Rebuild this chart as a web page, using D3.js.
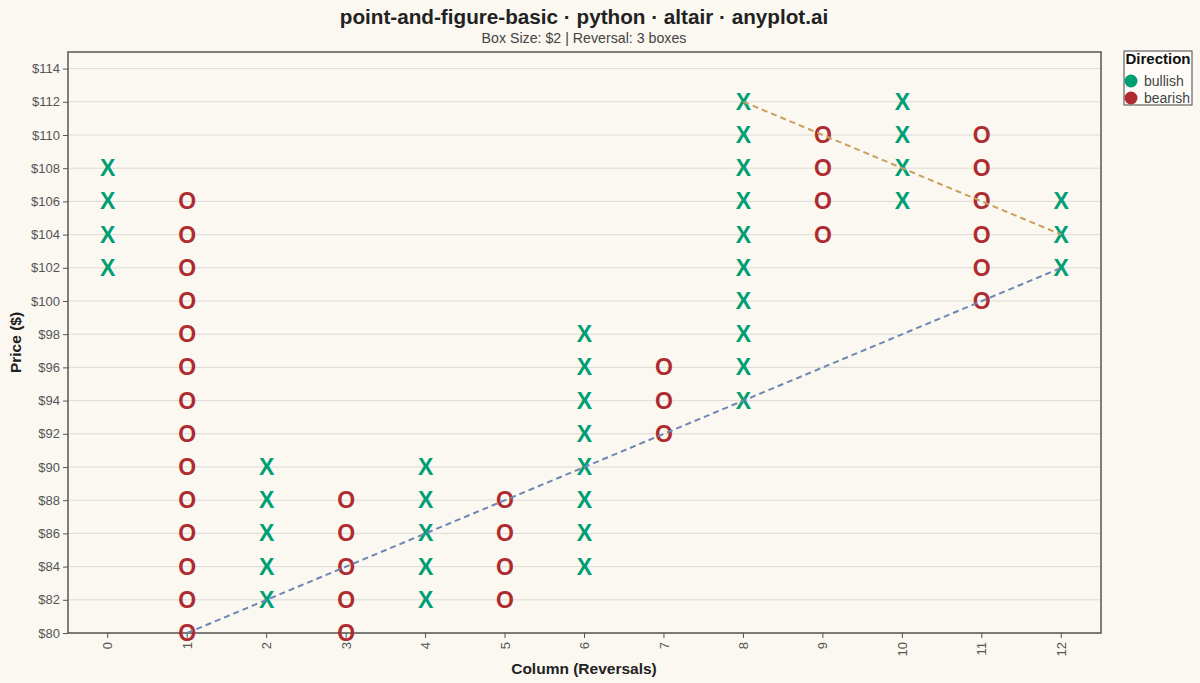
<!DOCTYPE html>
<html>
<head>
<meta charset="utf-8">
<script src="https://cdn.jsdelivr.net/npm/d3@7"></script>
<style>
  body { margin: 0; background: #FAF8F1; }
  svg { display: block; font-family: "Liberation Sans", Arial, sans-serif; }
</style>
</head>
<body>
<div id="chart"></div>
<script>
// columns of the point-and-figure chart: direction, first box, last box
const columns = [0, 1, 2, 3, 4, 5, 6, 7, 8, 9, 10, 11, 12];
const directions = ["bullish", "bearish", "bullish", "bearish", "bullish", "bearish", "bullish",
                    "bearish", "bullish", "bearish", "bullish", "bearish", "bullish"];
const lowBoxes  = [102, 80, 82, 80, 82, 82, 84, 92, 94, 104, 106, 100, 102];
const highBoxes = [108, 106, 90, 88, 90, 88, 98, 96, 112, 110, 112, 110, 106];
const boxSize = 2;

const priceTicks = [80, 82, 84, 86, 88, 90, 92, 94, 96, 98, 100, 102, 104, 106, 108, 110, 112, 114];

// trend lines: [column, price]
const supportLine = [[1, 80], [12, 102]];
const resistanceLine = [[8, 112], [12, 104]];

const width = 1200, height = 683;
const margin = { top: 52, right: 99, bottom: 50, left: 68 };

const colors = { bullish: "#009E73", bearish: "#AE2B2F" };

// expand columns into boxes
const boxes = [];
columns.forEach((c, i) => {
    for (let p = lowBoxes[i]; p <= highBoxes[i]; p += boxSize) {
        boxes.push({ column: c, price: p, direction: directions[i] });
    }
});

const svg = d3.select("#chart").append("svg")
    .attr("width", width)
    .attr("height", height);

svg.append("rect").attr("width", width).attr("height", height).attr("fill", "#FAF8F1");

const x = d3.scaleBand()
    .domain(columns)
    .range([margin.left, width - margin.right]);

const y = d3.scaleLinear()
    .domain([80, 115])
    .range([height - margin.bottom, margin.top]);

const cx = c => x(c) + x.bandwidth() / 2;

// gridlines
svg.append("g")
    .selectAll("line")
    .data(priceTicks)
    .join("line")
    .attr("x1", margin.left)
    .attr("x2", width - margin.right)
    .attr("y1", d => y(d))
    .attr("y2", d => y(d))
    .attr("stroke", "#DDDBD5")
    .attr("stroke-width", 1);

// y axis
const yAxis = svg.append("g")
    .attr("transform", `translate(${margin.left},0)`)
    .call(d3.axisLeft(y).tickValues(priceTicks).tickFormat(d => "$" + d).tickSize(5).tickPadding(3));
yAxis.select(".domain").remove();
yAxis.selectAll(".tick line").attr("stroke", "#555");
yAxis.selectAll(".tick text").attr("fill", "#555").style("font-size", "13px")
    .style("font-family", "Liberation Sans, Arial, sans-serif");

// x axis
const xAxis = svg.append("g")
    .attr("transform", `translate(0,${height - margin.bottom})`)
    .call(d3.axisBottom(x).tickSize(5).tickPadding(3));
xAxis.select(".domain").remove();
xAxis.selectAll(".tick line").attr("stroke", "#555");
xAxis.selectAll(".tick text")
    .attr("fill", "#555")
    .style("font-size", "13px")
    .style("font-family", "Liberation Sans, Arial, sans-serif")
    .attr("transform", "rotate(-90)")
    .attr("text-anchor", "end")
    .attr("x", -9)
    .attr("y", 0)
    .attr("dy", "0.35em");

// frame
svg.append("rect")
    .attr("x", margin.left)
    .attr("y", margin.top)
    .attr("width", width - margin.left - margin.right)
    .attr("height", height - margin.top - margin.bottom)
    .attr("fill", "none")
    .attr("stroke", "#555")
    .attr("stroke-width", 1.5);

// X / O marks
svg.append("g")
    .selectAll("text")
    .data(boxes)
    .join("text")
    .attr("x", d => cx(d.column))
    .attr("y", d => y(d.price))
    .attr("dy", "0.35em")
    .attr("text-anchor", "middle")
    .attr("fill", d => colors[d.direction])
    .style("font-size", "23px")
    .style("font-weight", "bold")
    .text(d => d.direction === "bullish" ? "X" : "O");

// trend lines
const line = d3.line().x(d => cx(d[0])).y(d => y(d[1]));
svg.append("path")
    .datum(supportLine)
    .attr("d", line)
    .attr("fill", "none")
    .attr("stroke", "#6F86B3")
    .attr("stroke-width", 2)
    .attr("stroke-dasharray", "6,4");
svg.append("path")
    .datum(resistanceLine)
    .attr("d", line)
    .attr("fill", "none")
    .attr("stroke", "#CC9F5E")
    .attr("stroke-width", 2)
    .attr("stroke-dasharray", "6,4");

// titles
svg.append("text")
    .attr("x", 584).attr("y", 24)
    .attr("text-anchor", "middle")
    .style("font-size", "20.7px").style("font-weight", "bold").attr("fill", "#222")
    .text("point-and-figure-basic · python · altair · anyplot.ai");
svg.append("text")
    .attr("x", 584).attr("y", 43)
    .attr("text-anchor", "middle")
    .style("font-size", "14.2px").attr("fill", "#444")
    .text("Box Size: $2 | Reversal: 3 boxes");

svg.append("text")
    .attr("x", 584).attr("y", 674)
    .attr("text-anchor", "middle")
    .style("font-size", "15.5px").style("font-weight", "bold").attr("fill", "#222")
    .text("Column (Reversals)");
svg.append("text")
    .attr("transform", `translate(21,${(margin.top + height - margin.bottom) / 2}) rotate(-90)`)
    .attr("text-anchor", "middle")
    .style("font-size", "15.5px").style("font-weight", "bold").attr("fill", "#222")
    .text("Price ($)");

// legend
const legend = svg.append("g").attr("transform", "translate(1124,51)");
legend.append("rect")
    .attr("width", 68).attr("height", 54)
    .attr("fill", "#FDFCF8").attr("stroke", "#444").attr("stroke-width", 1);
legend.append("text")
    .attr("x", 34).attr("y", 13)
    .attr("text-anchor", "middle")
    .style("font-size", "15px").style("font-weight", "bold").attr("fill", "#111")
    .text("Direction");
const entries = legend.selectAll(".entry")
    .data(["bullish", "bearish"])
    .join("g")
    .attr("transform", (d, i) => `translate(0,${30 + i * 17})`);
entries.append("circle")
    .attr("cx", 7).attr("cy", 0).attr("r", 6.5)
    .attr("fill", d => colors[d]);
entries.append("text")
    .attr("x", 20).attr("y", 0).attr("dy", "0.35em")
    .style("font-size", "14px").attr("fill", "#444")
    .text(d => d);
</script>
</body>
</html>
